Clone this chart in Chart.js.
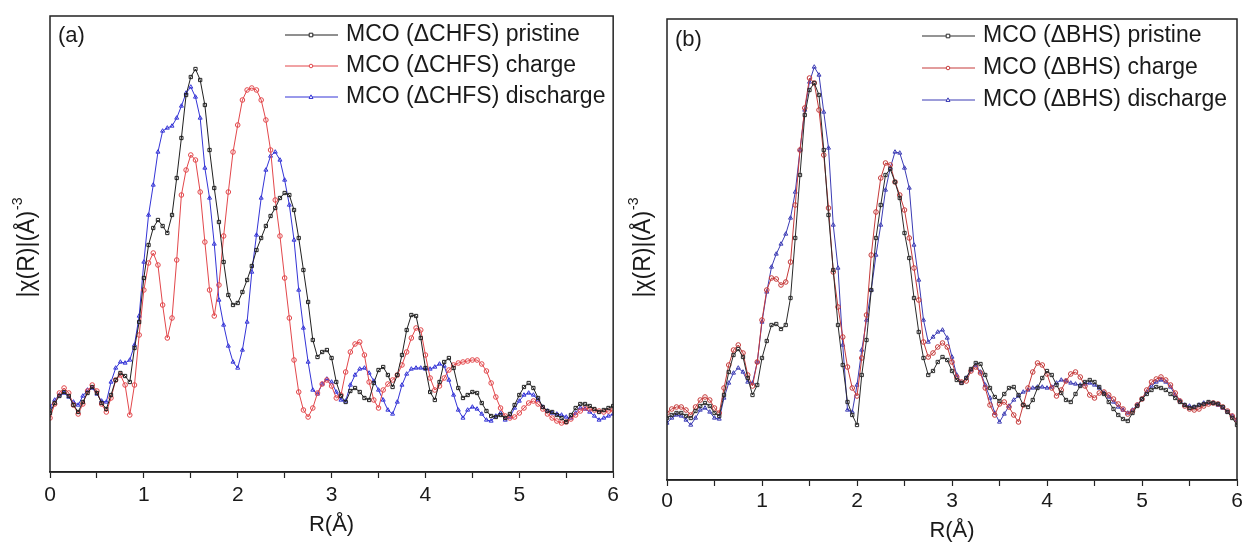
<!doctype html>
<html lang="en">
  <head>
    <meta charset="utf-8">
    <title>MCO |chi(R)| comparison</title>
    <style>
      * {
        margin: 0;
        padding: 0;
      }
      body {
        width: 1248px;
        height: 544px;
        background: #fff;
        position: relative;
        overflow: hidden;
      }
      .panel {
        position: absolute;
        top: 0;
        width: 624px;
        height: 544px;
      }
      #panelA { left: 0; }
      #panelB { left: 624px; }
    </style>
  </head>
  <body>
    <div class="panel" id="panelA"><canvas id="chartA" width="624" height="544"></canvas></div>
    <div class="panel" id="panelB"><canvas id="chartB" width="624" height="544"></canvas></div>

    <script src="https://cdn.jsdelivr.net/npm/chart.js"></script>
    <script>
    // setup - R grid (Å), values in arbitrary units
    const rValues = [0,0.05,0.1,0.15,0.2,0.25,0.3,0.35,0.4,0.45,0.5,0.55,0.6,0.65,0.7,0.75,0.8,0.85,0.9,0.95,
      1,1.05,1.1,1.15,1.2,1.25,1.3,1.35,1.4,1.45,1.5,1.55,1.6,1.65,1.7,1.75,1.8,1.85,1.9,1.95,
      2,2.05,2.1,2.15,2.2,2.25,2.3,2.35,2.4,2.45,2.5,2.55,2.6,2.65,2.7,2.75,2.8,2.85,2.9,2.95,
      3,3.05,3.1,3.15,3.2,3.25,3.3,3.35,3.4,3.45,3.5,3.55,3.6,3.65,3.7,3.75,3.8,3.85,3.9,3.95,
      4,4.05,4.1,4.15,4.2,4.25,4.3,4.35,4.4,4.45,4.5,4.55,4.6,4.65,4.7,4.75,4.8,4.85,4.9,4.95,
      5,5.05,5.1,5.15,5.2,5.25,5.3,5.35,5.4,5.45,5.5,5.55,5.6,5.65,5.7,5.75,5.8,5.85,5.9,5.95,6];

    // panel (a) - ΔCHFS
    const labelsA = ['MCO (ΔCHFS) pristine', 'MCO (ΔCHFS) charge', 'MCO (ΔCHFS) discharge'];
    const aPristine = [59,69,76,80,76,67,60,70,79,85,79,69,63,77,92,99,96,90,124,150,
      194,227,244,252,246,239,257,294,334,377,395,403,392,367,322,284,250,210,177,167,
      169,180,192,206,222,234,246,256,264,274,279,277,262,234,202,170,132,115,120,122,
      114,90,76,70,81,84,80,74,72,89,102,105,97,85,97,117,142,157,156,134,
      104,80,72,90,110,114,104,84,74,77,80,79,69,61,56,55,57,54,58,67,
      77,85,89,84,74,65,61,60,57,54,50,57,64,68,68,66,63,60,62,64,66];
    const aCharge = [54,68,79,84,79,67,58,68,81,87,81,68,60,74,92,97,87,57,87,137,
      182,209,219,207,167,134,154,212,277,302,317,312,280,230,182,156,187,236,280,320,
      347,372,382,384,382,372,352,322,272,236,194,154,112,80,62,55,64,79,88,92,
      86,74,77,100,120,128,130,117,90,72,64,82,88,92,97,107,120,134,144,142,
      117,94,82,86,94,102,107,109,110,111,112,112,108,101,89,75,64,56,54,55,
      59,64,69,71,68,63,58,54,51,49,50,53,57,61,64,63,62,61,60,61,62];
    const aDischarge = [65,72,77,79,75,70,67,76,82,84,78,71,70,90,104,110,109,112,127,156,
      210,257,287,320,341,344,346,354,366,379,385,375,354,304,274,228,172,147,126,110,
      104,122,150,200,237,274,302,316,320,312,292,267,232,182,144,110,82,78,88,93,
      90,80,72,71,87,97,103,104,99,91,82,72,62,58,70,87,98,103,104,104,
      103,103,105,108,106,92,77,62,54,62,65,63,58,52,51,56,59,52,55,64,
      71,77,79,77,72,65,61,59,58,57,55,54,59,64,63,60,56,52,54,56,58];

    // panel (b) - ΔBHS
    const labelsB = ['MCO (ΔBHS) pristine', 'MCO (ΔBHS) charge', 'MCO (ΔBHS) discharge'];
    const bPristine = [62,65,67,67,64,62,69,74,77,74,67,64,85,108,125,131,123,102,85,95,
      122,139,155,156,151,155,182,242,305,365,390,397,385,330,265,210,155,115,78,65,
      55,105,140,190,242,275,305,311,298,282,247,222,182,148,122,105,109,118,123,120,
      109,100,97,102,111,117,116,105,92,83,79,86,92,93,85,75,73,80,92,102,
      109,105,95,87,80,78,86,94,98,100,98,93,86,78,71,65,61,59,67,74,
      81,86,90,93,92,90,86,82,78,75,72,73,75,76,78,77,76,73,68,62,55];
    const bCharge = [67,71,73,73,70,65,73,80,83,80,72,67,92,115,130,135,127,105,94,118,
      160,190,202,201,195,198,218,275,330,372,402,397,370,325,272,208,173,143,113,92,
      84,122,165,225,268,302,317,315,298,285,270,242,212,180,138,123,127,133,137,133,
      118,103,98,99,109,113,107,92,75,65,76,78,73,65,58,75,92,108,117,115,
      106,92,84,90,99,106,108,103,94,85,82,87,88,85,81,76,71,66,69,75,
      81,90,98,101,103,100,95,87,79,74,71,70,71,74,76,77,76,73,69,64,60];
    const bDischarge = [57,62,65,64,60,55,62,70,72,68,62,61,82,97,107,112,108,98,97,118,
      158,188,213,226,236,246,262,288,330,370,398,413,405,368,332,255,212,135,70,68,
      95,130,160,190,225,255,290,312,328,327,312,292,235,200,160,138,143,148,150,142,
      123,105,97,102,110,115,108,95,82,67,58,66,74,80,84,88,90,92,93,93,
      92,93,97,100,99,97,96,95,96,97,95,92,87,83,78,73,70,67,70,75,
      81,88,94,98,100,98,93,85,79,75,74,73,75,77,77,77,75,72,68,64,60];

    const FONT = '"Liberation Sans", Arial, sans-serif';
    Chart.defaults.font.family = FONT;
    Chart.defaults.color = '#1a1a1a';

    // small open markers for the hand drawn legend
    function drawMarker(ctx, style, x, y, r, color) {
      ctx.strokeStyle = color;
      ctx.lineWidth = 1;
      ctx.beginPath();
      if (style === 'rect') {
        ctx.rect(x - r, y - r, 2 * r, 2 * r);
      } else if (style === 'triangle') {
        ctx.moveTo(x, y - r * 1.2);
        ctx.lineTo(x + r * 1.1, y + r * 0.8);
        ctx.lineTo(x - r * 1.1, y + r * 0.8);
        ctx.closePath();
      } else {
        ctx.arc(x, y, r, 0, Math.PI * 2);
      }
      ctx.fillStyle = '#fff';
      ctx.fill();
      ctx.stroke();
    }

    // frame, panel tag, legend and y title
    const decor = {
      id: 'decor',
      afterDraw(chart, args, opts) {
        const ctx = chart.ctx;
        const a = chart.chartArea;
        ctx.save();
        ctx.strokeStyle = '#222';
        ctx.lineWidth = 1.5;
        ctx.strokeRect(a.left, a.top, a.right - a.left, a.bottom - a.top);

        ctx.fillStyle = '#1a1a1a';
        ctx.font = '22px ' + FONT;
        ctx.textBaseline = 'middle';
        ctx.textAlign = 'left';
        ctx.fillText(opts.tag, opts.tagX, opts.tagY);

        chart.data.datasets.forEach((ds, i) => {
          const y = opts.legendY[i];
          ctx.strokeStyle = ds.borderColor;
          ctx.lineWidth = 1;
          ctx.beginPath();
          ctx.moveTo(opts.legendX, y);
          ctx.lineTo(opts.legendX + 53, y);
          ctx.stroke();
          drawMarker(ctx, ds.pointStyle, opts.legendX + 26, y, 1.8, ds.borderColor);
          ctx.fillStyle = '#1a1a1a';
          ctx.font = '23px ' + FONT;
          ctx.fillText(ds.label, opts.legendX + 61, y);
        });

        // rotated axis title with superscript
        ctx.translate(opts.yTitleX, opts.yTitleY);
        ctx.rotate(-Math.PI / 2);
        const main = '|χ(R)|(Å)';
        ctx.font = '23px ' + FONT;
        const w1 = ctx.measureText(main).width;
        ctx.font = '14px ' + FONT;
        const w2 = ctx.measureText('-3').width;
        const x0 = -(w1 + w2) / 2;
        ctx.font = '23px ' + FONT;
        ctx.fillText(main, x0, 0);
        ctx.font = '14px ' + FONT;
        ctx.fillText('-3', x0 + w1 + 1, -10);
        ctx.restore();
      }
    };

    function series(label, values, color, style) {
      return {
        label: label,
        data: values.map((v, i) => ({ x: rValues[i], y: v })),
        borderColor: color,
        backgroundColor: 'rgba(255,255,255,0)',
        borderWidth: 1,
        pointStyle: style,
        pointRadius: 2.3,
        pointBorderWidth: 1,
        pointBackgroundColor: 'rgba(255,255,255,0)',
        pointBorderColor: color,
        tension: 0
      };
    }

    function makePanel(id, datasets, p) {
      return new Chart(document.getElementById(id), {
        type: 'line',
        data: { datasets: datasets },
        options: {
          responsive: false,
          animation: false,
          layout: { padding: { left: p.left, right: p.right, top: p.top, bottom: 0 } },
          scales: {
            x: {
              type: 'linear',
              min: 0,
              max: 6,
              afterFit: (scale) => { scale.height = p.axisH; },
              border: { display: true, color: '#222', width: 1.5 },
              grid: {
                drawOnChartArea: false,
                drawTicks: true,
                tickLength: 6,
                tickColor: '#222',
                tickWidth: 1.2
              },
              ticks: {
                stepSize: 0.5,
                autoSkip: false,
                maxRotation: 0,
                padding: p.tickPad,
                color: '#1a1a1a',
                font: { size: 21 },
                callback: (v) => Number.isInteger(v) ? v : ''
              },
              title: {
                display: true,
                text: 'R(Å)',
                color: '#1a1a1a',
                font: { size: 22 },
                padding: { top: 0, bottom: p.titlePad }
              }
            },
            y: {
              display: false,
              min: 0,
              max: p.yMax
            }
          },
          plugins: {
            legend: { display: false },
            tooltip: { enabled: false },
            decor: p.decor
          }
        },
        plugins: [decor]
      });
    }

    // render init block
    makePanel('chartA', [
      series(labelsA[0], aPristine, '#202020', 'rect'),
      series(labelsA[1], aCharge, '#e2474b', 'circle'),
      series(labelsA[2], aDischarge, '#3434d6', 'triangle')
    ], {
      left: 50, right: 10, top: 16, axisH: 72, tickPad: 5, titlePad: 6, yMax: 456,
      decor: { tag: '(a)', tagX: 58, tagY: 36, legendX: 285, legendY: [35, 66, 97], yTitleX: 28, yTitleY: 248 }
    });

    makePanel('chartB', [
      series(labelsB[0], bPristine, '#2a2a2a', 'rect'),
      series(labelsB[1], bCharge, '#c53a3a', 'circle'),
      series(labelsB[2], bDischarge, '#3b3bb4', 'triangle')
    ], {
      left: 43, right: 11, top: 19, axisH: 64, tickPad: 3, titlePad: 0, yMax: 461,
      decor: { tag: '(b)', tagX: 51, tagY: 40, legendX: 298, legendY: [36, 68, 100], yTitleX: 20, yTitleY: 248 }
    });
    </script>
  </body>
</html>
